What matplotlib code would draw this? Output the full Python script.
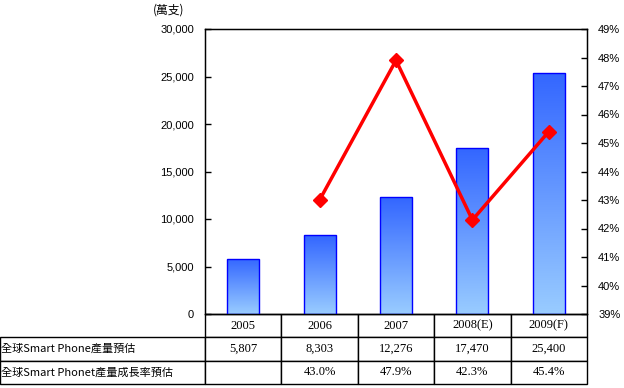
import numpy as np
import matplotlib
matplotlib.use("Agg")
import matplotlib.pyplot as plt
from matplotlib.colors import LinearSegmentedColormap
from matplotlib.ticker import FuncFormatter, MultipleLocator

YEARS = ["2005", "2006", "2007", "2008(E)", "2009(F)"]
OUTPUT = [5807, 8303, 12276, 17470, 25400]
GROWTH_YEARS = ["2006", "2007", "2008(E)", "2009(F)"]
GROWTH = [43.0, 47.9, 42.3, 45.4]

ROW_LABELS = ["全球Smart Phone產量預估", "全球Smart Phonet產量成長率預估"]
UNIT_LABEL = "(萬支)"

CJK = ["Noto Sans CJK TC", "DejaVu Sans"]
TICK_FONT = "Liberation Sans"
TABLE_FONT = "Liberation Serif"

W, H = 624, 388
AX_L, AX_R, AX_T, AX_B = 205, 587, 29, 314
TABLE_B = 384

fig = plt.figure(figsize=(W / 100, H / 100), dpi=100)
ax = fig.add_axes([AX_L / W, 1 - AX_B / H, (AX_R - AX_L) / W, (AX_B - AX_T) / H])

x = np.arange(len(YEARS))
bars = ax.bar(x, OUTPUT, width=0.42, facecolor="none", edgecolor="#0000ff",
              linewidth=1.0, zorder=3)

cmap = LinearSegmentedColormap.from_list("bar", ["#99ccff", "#3366ff"])
grad = np.linspace(0, 1, 256).reshape(-1, 1)
for b in bars:
    im = ax.imshow(grad, cmap=cmap, origin="lower", aspect="auto",
                   extent=[b.get_x(), b.get_x() + b.get_width(), 0, b.get_height()],
                   zorder=2)
    im.set_clip_path(b)

ax.set_xlim(-0.5, len(YEARS) - 0.5)
ax.set_ylim(0, 30000)
ax.yaxis.set_major_locator(MultipleLocator(5000))
ax.yaxis.set_major_formatter(FuncFormatter(lambda v, p: f"{v:,.0f}"))
ax.set_xticks([])
ax.tick_params(axis="y", direction="in", length=4, width=1, labelsize=8, pad=8)
for lbl in ax.get_yticklabels():
    lbl.set_fontfamily(TICK_FONT)
for s in ax.spines.values():
    s.set_linewidth(1.0)

ax2 = ax.twinx()
gx = [YEARS.index(y) for y in GROWTH_YEARS]
ax2.plot(gx, GROWTH, color="#ff0000", linewidth=2.5, marker="D", markersize=7,
         zorder=4)
ax2.set_ylim(39, 49)
ax2.yaxis.set_major_locator(MultipleLocator(1))
ax2.yaxis.set_major_formatter(FuncFormatter(lambda v, p: f"{v:.0f}%"))
ax2.tick_params(axis="y", direction="in", length=4, width=1, labelsize=8, pad=8)
for lbl in ax2.get_yticklabels():
    lbl.set_fontfamily(TICK_FONT)

fig.text((AX_L - 52) / W, 1 - 10 / H, UNIT_LABEL, family=CJK, fontsize=8.5,
         va="center", ha="left")

# data table under the plot
cell_text = [
    [""] + YEARS,
    [ROW_LABELS[0]] + [f"{v:,}" for v in OUTPUT],
    [ROW_LABELS[1]] + [""] * (len(YEARS) - len(GROWTH))
    + [f"{g:.1f}%" for g in GROWTH],
]
ax_w = AX_R - AX_L
ax_h = AX_B - AX_T
first_w = AX_L / AX_R
col_ws = [first_w] + [(1 - first_w) / len(YEARS)] * len(YEARS)
table = ax.table(cellText=cell_text, cellLoc="center", colWidths=col_ws,
                 bbox=[-AX_L / ax_w, -(TABLE_B - AX_B) / ax_h,
                       AX_R / ax_w, (TABLE_B - AX_B) / ax_h])
table.auto_set_font_size(False)
table.set_fontsize(9)
for (r, c), cell in table.get_celld().items():
    cell.set_linewidth(1.0)
    txt = cell.get_text()
    txt.set_fontfamily(TABLE_FONT)
    if c == 0:
        cell.PAD = 0.005
        txt.set_ha("left")
        cell._loc = "left"
        txt.set_fontfamily(CJK)
        txt.set_fontsize(8)
        if r == 0:
            cell.visible_edges = "open"

fig.savefig("out.png", dpi=100)
